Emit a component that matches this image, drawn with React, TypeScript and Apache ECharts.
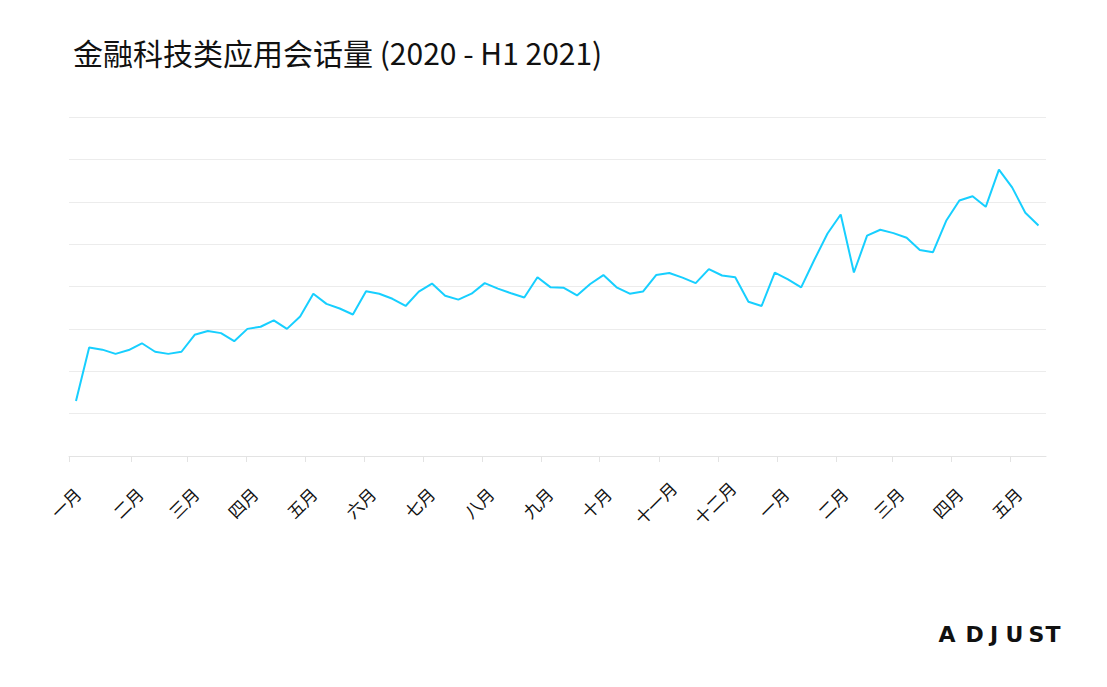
import React, { useEffect, useRef } from "react";
import * as echarts from "echarts";

const TITLE = "金融科技类应用会话量 (2020 - H1 2021)";

// weekly session index (arbitrary units), Jan 2020 – May 2021
const SESSIONS = [
  13.0, 25.6, 25.1, 24.1, 25.0, 26.6, 24.6, 24.1, 24.6, 28.6,
  29.5, 29.0, 27.1, 30.0, 30.5, 32.0, 30.0, 32.9, 38.3, 35.9,
  34.8, 33.4, 38.9, 38.3, 37.1, 35.4, 38.8, 40.7, 37.8, 36.9,
  38.3, 40.8, 39.5, 38.4, 37.4, 42.2, 39.8, 39.7, 37.9, 40.6,
  42.7, 39.8, 38.3, 38.8, 42.7, 43.2, 42.1, 40.8, 44.1, 42.6,
  42.2, 36.4, 35.4, 43.3, 41.7, 39.8, 46.3, 52.5, 57.0, 43.3,
  52.0, 53.4, 52.6, 51.5, 48.6, 48.1, 55.5, 60.3, 61.3, 58.8,
  67.6, 63.4, 57.4, 54.4,
];

// month boundaries expressed in week-index units
const MONTH_TICKS = [
  -0.53, 4.19, 8.42, 12.9, 17.37, 21.83, 26.3, 30.8, 35.26, 39.7,
  44.2, 48.69, 53.16, 57.64, 61.89, 66.37, 70.84,
];
const MONTH_LABELS = [
  "一月", "二月", "三月", "四月", "五月", "六月", "七月", "八月", "九月", "十月",
  "十一月", "十二月", "一月", "二月", "三月", "四月", "五月",
];
const X_MIN = -0.53;
const X_MAX = 73.57;

const LOGO_LETTERS = ["A", "D", "J", "U", "S", "T"];
const LOGO_X = [947, 974.5, 994, 1014.5, 1036.5, 1053];

export default function App() {
  const ref = useRef<HTMLDivElement>(null);

  useEffect(() => {
    document.body.style.margin = "0";
    const chart = echarts.init(ref.current!, null, { renderer: "svg" });
    const font = "'Noto Sans CJK SC', 'Noto Sans', sans-serif";
    chart.setOption({
      animation: false,
      backgroundColor: "#ffffff",
      title: {
        text: TITLE,
        left: 68,
        top: 32,
        textStyle: {
          fontFamily: font,
          fontSize: 30,
          fontWeight: "normal",
          color: "#111111",
        },
      },
      grid: { left: 69, right: 61, top: 117, bottom: 231, containLabel: false },
      xAxis: {
        type: "value",
        min: X_MIN,
        max: X_MAX,
        splitLine: { show: false },
        axisLine: { show: true, lineStyle: { color: "#e3e3e3", width: 1 } },
        axisTick: {
          show: true,
          customValues: MONTH_TICKS,
          length: 6,
          lineStyle: { color: "#e3e3e3" },
        },
        axisLabel: {
          customValues: MONTH_TICKS,
          rotate: 45,
          align: "center",
          verticalAlign: "middle",
          padding: [0, 10, 0, 0],
          margin: 43,
          color: "#111111",
          fontSize: 17,
          fontFamily: font,
          formatter: (v: number) => {
            let best = 0;
            let bd = Infinity;
            MONTH_TICKS.forEach((t, i) => {
              const d = Math.abs(t - v);
              if (d < bd) {
                bd = d;
                best = i;
              }
            });
            return MONTH_LABELS[best];
          },
        },
      },
      yAxis: {
        type: "value",
        min: 0,
        max: 80,
        interval: 10,
        axisLine: { show: false },
        axisTick: { show: false },
        axisLabel: { show: false },
        splitLine: { show: true, lineStyle: { color: "#ececec", width: 1 } },
      },
      series: [
        {
          type: "line",
          data: SESSIONS.map((v, i) => [i, v]),
          showSymbol: false,
          symbol: "none",
          lineStyle: { color: "#17cfff", width: 2 },
        },
      ],
      graphic: LOGO_LETTERS.map((ch, i) => ({
        type: "text",
        x: LOGO_X[i],
        y: 634,
        style: {
          text: ch,
          fontFamily: "'DejaVu Sans', sans-serif",
          fontWeight: "bold",
          fontSize: 22,
          fill: "#111111",
          align: "center",
          verticalAlign: "middle",
        },
      })),
    });
    return () => chart.dispose();
  }, []);

  return <div ref={ref} style={{ width: 1107, height: 687 }} />;
}
